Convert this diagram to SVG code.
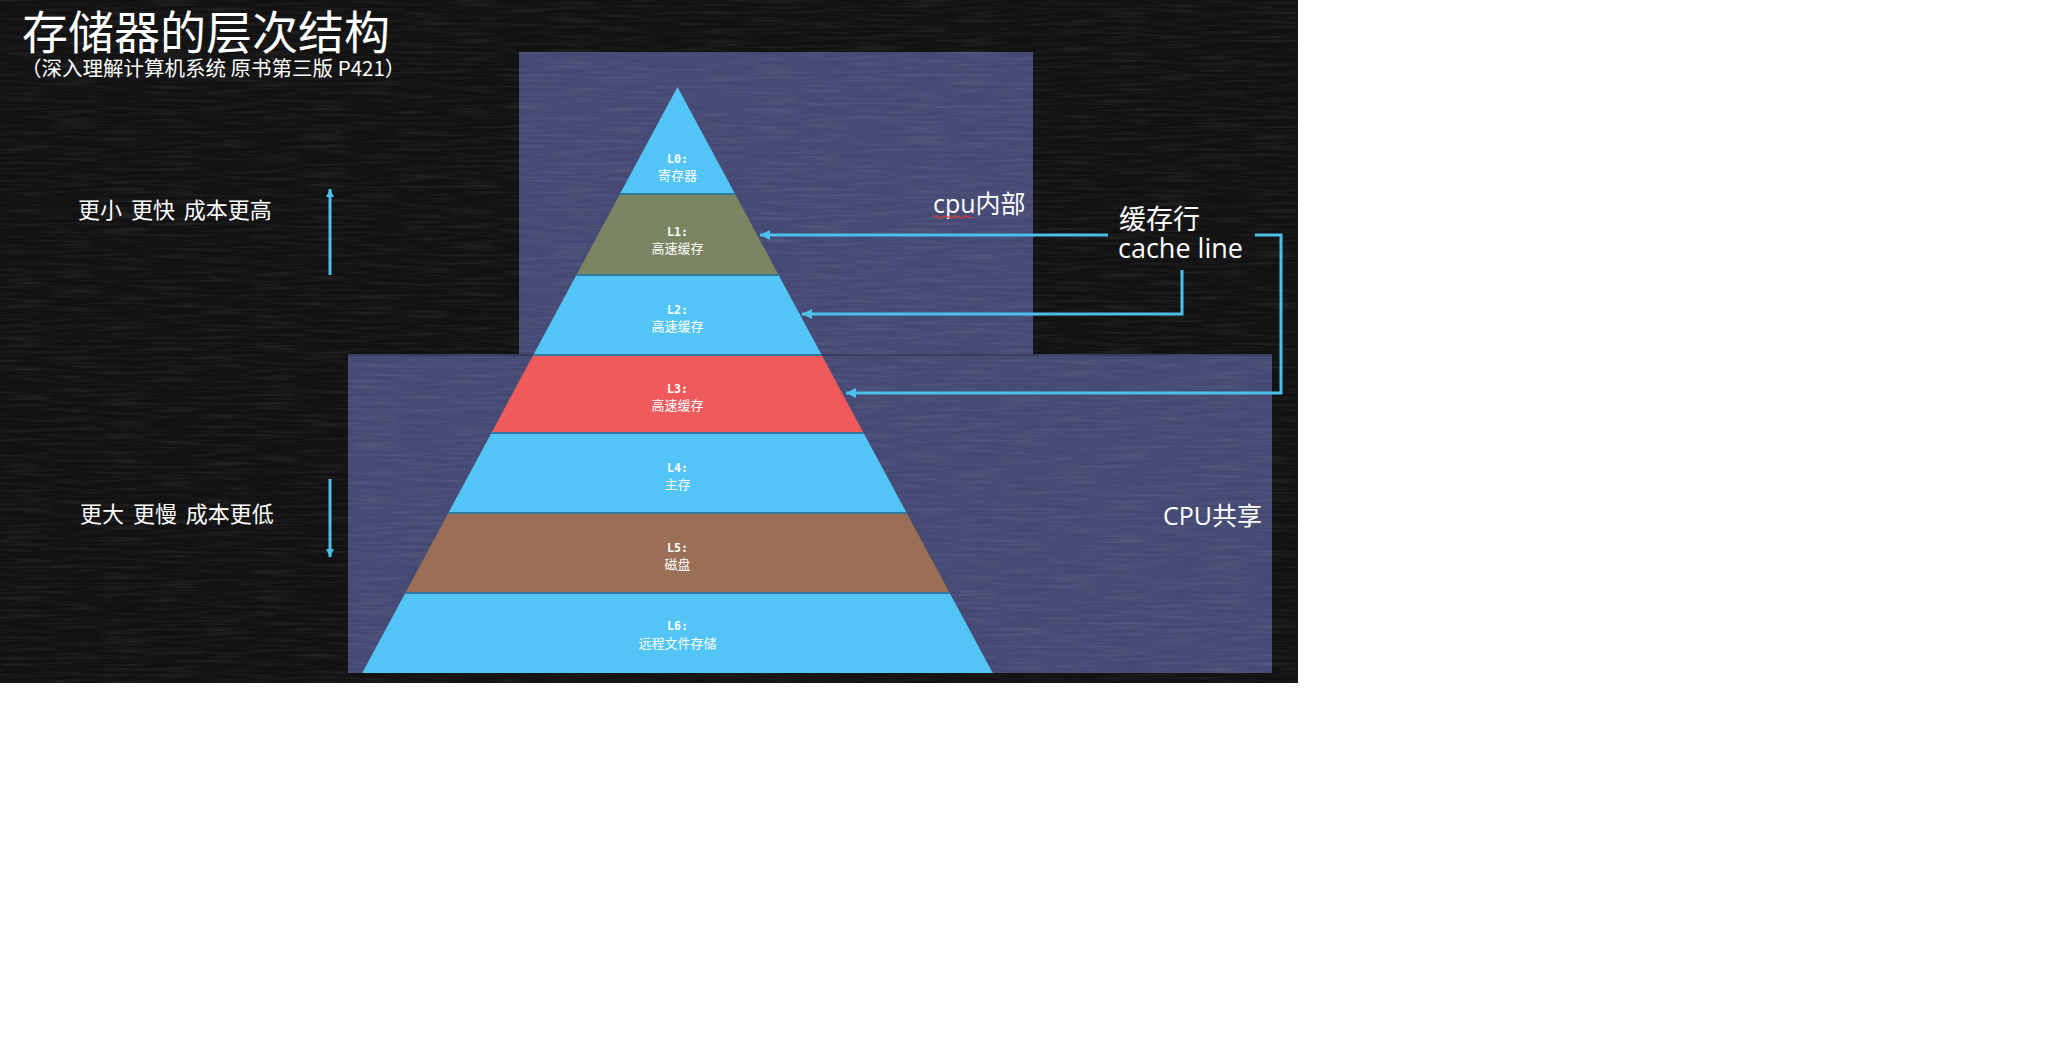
<svg xmlns="http://www.w3.org/2000/svg" width="2059" height="1039" viewBox="0 0 2059 1039">
<style>
.cjk{font-family:"Noto Sans CJK SC","Noto Sans",sans-serif;fill:#ffffff}
.lat{font-family:"Open Sans","Noto Sans CJK SC",sans-serif;fill:#ffffff}
.lvl{font-family:"DejaVu Sans Mono",monospace;font-weight:bold;font-size:11.5px;fill:#ffffff;text-anchor:middle}
.lname{font-family:"Noto Sans CJK SC",sans-serif;font-size:13px;fill:#ffffff;text-anchor:middle}
.blue{fill:#52c5f6}
.sep{stroke:#2f789f;stroke-width:2}
.conn{fill:none;stroke:#4dbfec;stroke-width:3}
.box{fill:#444a73}
.note{font-size:22px;word-spacing:4px}
</style>
<defs>
<marker id="ah" viewBox="0 0 10 10" refX="10" refY="5" markerUnits="userSpaceOnUse" markerWidth="11" markerHeight="10" orient="auto">
<path d="M0,0 L10,5 L0,10 z" fill="#4dbfec"/>
</marker>
<marker id="ahs" viewBox="0 0 10 10" refX="10" refY="5" markerUnits="userSpaceOnUse" markerWidth="8" markerHeight="8" orient="auto">
<path d="M0,0 L10,5 L0,10 z" fill="#4dbfec"/>
</marker>
<filter id="grain" x="0" y="0" width="100%" height="100%">
<feTurbulence type="fractalNoise" baseFrequency="0.02 0.35" numOctaves="3" seed="4"/>
<feColorMatrix type="matrix" values="0 0 0 0 1  0 0 0 0 1  0 0 0 0 1  1.3 0 0 0 -0.55"/>
</filter>
</defs>

<g id="background">
<rect x="0" y="0" width="1298" height="683" fill="#121212"/>
</g>

<g id="box-cpu-inner">
<rect class="box" x="519" y="52" width="514" height="303"/>
</g>
<g id="box-cpu-shared">
<rect class="box" x="348" y="355" width="924" height="318"/>
<line x1="348" y1="355" x2="1272" y2="355" stroke="#363b5e" stroke-width="2"/>
</g>
<rect x="0" y="0" width="1298" height="683" filter="url(#grain)" opacity="0.12"/>

<g id="title">
<text class="cjk" x="22" y="49" font-size="46">存储器的层次结构</text>
<text class="cjk" x="21" y="76" font-size="20.5">（深入理解计算机系统 原书第三版 P421）</text>
</g>

<g id="note-top">
<text class="cjk note" x="78" y="218">更小 更快 成本更高</text>
</g>
<g id="note-bottom">
<text class="cjk note" x="80" y="522">更大 更慢 成本更低</text>
</g>

<g id="pyramid">
<g id="L0"><polygon class="blue" points="677.5,87 735.1,194 619.9,194"/><text class="lvl" x="677.5" y="163">L0:</text><text class="lname" x="677.5" y="180">寄存器</text></g>
<g id="L1"><polygon fill="#7b8561" points="619.9,194 735.1,194 778.6,275 576.4,275"/><text class="lvl" x="677.5" y="236">L1:</text><text class="lname" x="677.5" y="253">高速缓存</text></g>
<g id="L2"><polygon class="blue" points="576.4,275 778.6,275 821.7,355 533.3,355"/><text class="lvl" x="677.5" y="314">L2:</text><text class="lname" x="677.5" y="331">高速缓存</text></g>
<g id="L3"><polygon fill="#ef5b5d" points="533.3,355 821.7,355 863.6,433 491.4,433"/><text class="lvl" x="677.5" y="393">L3:</text><text class="lname" x="677.5" y="410">高速缓存</text></g>
<g id="L4"><polygon class="blue" points="491.4,433 863.6,433 906.7,513 448.3,513"/><text class="lvl" x="677.5" y="472">L4:</text><text class="lname" x="677.5" y="489">主存</text></g>
<g id="L5"><polygon fill="#9b6f56" points="448.3,513 906.7,513 949.7,593 405.3,593"/><text class="lvl" x="677.5" y="552">L5:</text><text class="lname" x="677.5" y="569">磁盘</text></g>
<g id="L6"><polygon class="blue" points="405.3,593 949.7,593 992.8,673 362.2,673"/><text class="lvl" x="677.5" y="630">L6:</text><text class="lname" x="677.5" y="648">远程文件存储</text></g>
<g id="separators">
<line class="sep" x1="619.9" y1="194" x2="735.1" y2="194"/>
<line class="sep" x1="576.4" y1="275" x2="778.6" y2="275"/>
<line class="sep" x1="533.3" y1="355" x2="821.7" y2="355"/>
<line class="sep" x1="491.4" y1="433" x2="863.6" y2="433"/>
<line class="sep" x1="448.3" y1="513" x2="906.7" y2="513"/>
<line class="sep" x1="405.3" y1="593" x2="949.7" y2="593"/>
</g>
</g>

<g id="label-cpu-inner">
<text class="lat" x="933" y="213" font-size="25">cpu<tspan class="cjk">内部</tspan></text>
<path d="M933,217 q2.5,-2 5,0 t5,0 t5,0 t5,0 t5,0 t5,0 t5,0 t5,0" fill="none" stroke="#d83a3a" stroke-width="1.3"/>
</g>
<g id="label-cache-line">
<text class="cjk" x="1119" y="229" font-size="27">缓存行</text>
<text class="lat" x="1118" y="258" font-size="27">cache line</text>
</g>
<g id="label-cpu-shared">
<text class="lat" x="1163" y="525" font-size="25">CPU<tspan class="cjk">共享</tspan></text>
</g>

<g id="connectors">
<path class="conn" d="M1108,235 H760" marker-end="url(#ah)"/>
<path class="conn" d="M1182,270 V314 H802" marker-end="url(#ah)"/>
<path class="conn" d="M1255,235 H1281 V393 H846" marker-end="url(#ah)"/>
<path class="conn" d="M330,275 V189" marker-end="url(#ahs)"/>
<path class="conn" d="M330,479 V557" marker-end="url(#ahs)"/>
</g>
</svg>
